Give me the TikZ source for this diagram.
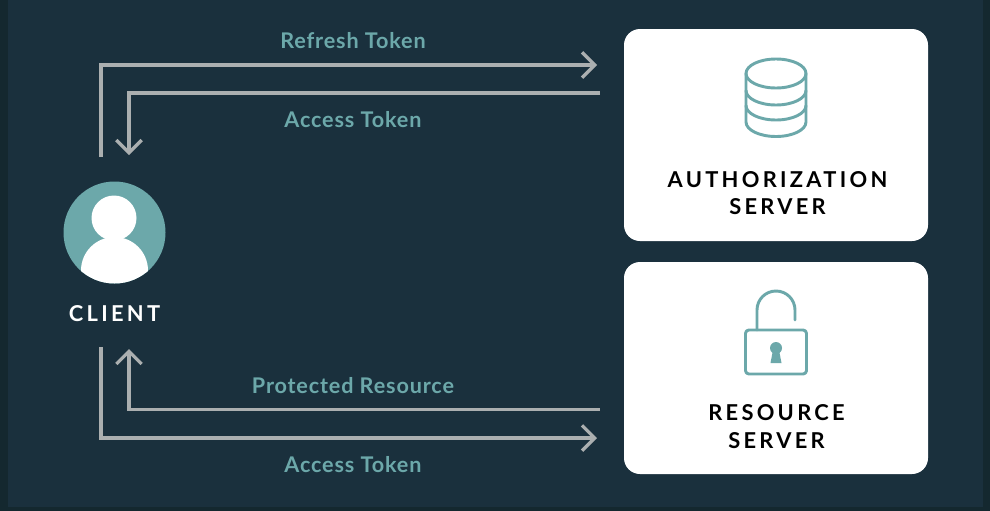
\documentclass[tikz,border=0pt]{standalone}
\usepackage{fontspec}
\setmainfont{Lato}
\newfontfamily\capsfont[LetterSpace=15]{Lato}
\newfontfamily\tokenfont[LetterSpace=4]{Lato}
\usetikzlibrary{arrows.meta}
\definecolor{pagedark}{HTML}{14282F}
\definecolor{paneldark}{HTML}{1A303D}
\definecolor{tealmark}{HTML}{6CA8AA}
\definecolor{linegray}{HTML}{ABAFB0}
\tikzset{
  tokenline/.style={draw=linegray,line width=2.5pt,miter limit=10},
  tokenarrow/.style={tokenline,-{Straight Barb[length=9.5pt,width=19pt,line width=2.5pt]}},
  tokenlabel/.style={text=tealmark,font=\tokenfont\fontsize{16.2}{19}\selectfont\bfseries,inner sep=0pt},
  serverbox/.style={fill=white,rounded corners=12pt,minimum width=228pt,minimum height=159pt,inner sep=0pt},
  serverlabel/.style={text=black,align=center,inner sep=0pt,font=\capsfont\fontsize{16.4}{20.6}\selectfont\bfseries},
  iconline/.style={draw=tealmark,line width=2.2pt,line cap=round,line join=round}
}
\begin{document}
\begin{tikzpicture}[x=0.75pt,y=-0.75pt]
  \useasboundingbox (0,0) rectangle (990,511);
  \fill[pagedark] (0,0) rectangle (990,511);
  \fill[paneldark] (8,0) rectangle (983,507);
  % servers
  \node[serverbox] (authbox) at (776,135) {};
  \node[serverbox] (resbox) at (776,368) {};
  \node[serverlabel] (authlabel) at (777.5,193.3) {AUTHORIZATION\\SERVER};
  \node[serverlabel] (reslabel) at (776.5,426.5) {RESOURCE\\SERVER};
  % database icon
  \draw[iconline] (776,73.5) ellipse [x radius=30,y radius=14.5];
  \draw[iconline] (746,73.5) -- (746,122) arc [start angle=180,end angle=0,x radius=30,y radius=14.5] -- (806,73.5);
  \draw[iconline] (746,90.5) arc [start angle=180,end angle=0,x radius=30,y radius=14.5];
  \draw[iconline] (746,105.5) arc [start angle=180,end angle=0,x radius=30,y radius=14.5];
  % lock icon
  \draw[iconline,rounded corners=2.5pt] (745.5,330) rectangle (806.5,374);
  \draw[iconline] (757,330) -- (757,310) arc [start angle=180,end angle=360,radius=19] -- (795,320);
  \fill[tealmark] (776,348) circle [radius=6];
  \fill[tealmark] (773,350) -- (779,350) -- (781.5,363) -- (770.5,363) -- cycle;
  % client
  \node[circle,fill=tealmark,minimum size=76.5pt,inner sep=0pt] (clientdot) at (114.5,232.5) {};
  \begin{scope}
    \clip (114.5,232.5) circle [radius=51];
    \fill[white] (114,218) circle [radius=22.5];
    \fill[white] (114.5,270.5) circle [radius=33.5];
  \end{scope}
  \node[serverlabel,text=white] (clientlabel) at (114.5,313.3) {CLIENT};
  % connectors
  \coordinate (refreshfrom) at (101,157);
  \coordinate (refreshto) at (597,65);
  \coordinate (accessfrom) at (600,93);
  \coordinate (accessto) at (129,155);
  \coordinate (protectfrom) at (600,409.5);
  \coordinate (protectto) at (129,349);
  \coordinate (sendfrom) at (101,347);
  \coordinate (sendto) at (597,438);
  \draw[tokenarrow] (refreshfrom) |- (refreshto);
  \draw[tokenarrow] (accessfrom) -| (accessto);
  \draw[tokenarrow] (protectfrom) -| (protectto);
  \draw[tokenarrow] (sendfrom) |- (sendto);
  % labels
  \node[tokenlabel] (refreshlabel) at (353,40.5) {Refresh Token};
  \node[tokenlabel] (accesslabel) at (353,119.5) {Access Token};
  \node[tokenlabel] (protectlabel) at (353,385.5) {Protected Resource};
  \node[tokenlabel] (sendlabel) at (353,464.5) {Access Token};
\end{tikzpicture}
\end{document}
